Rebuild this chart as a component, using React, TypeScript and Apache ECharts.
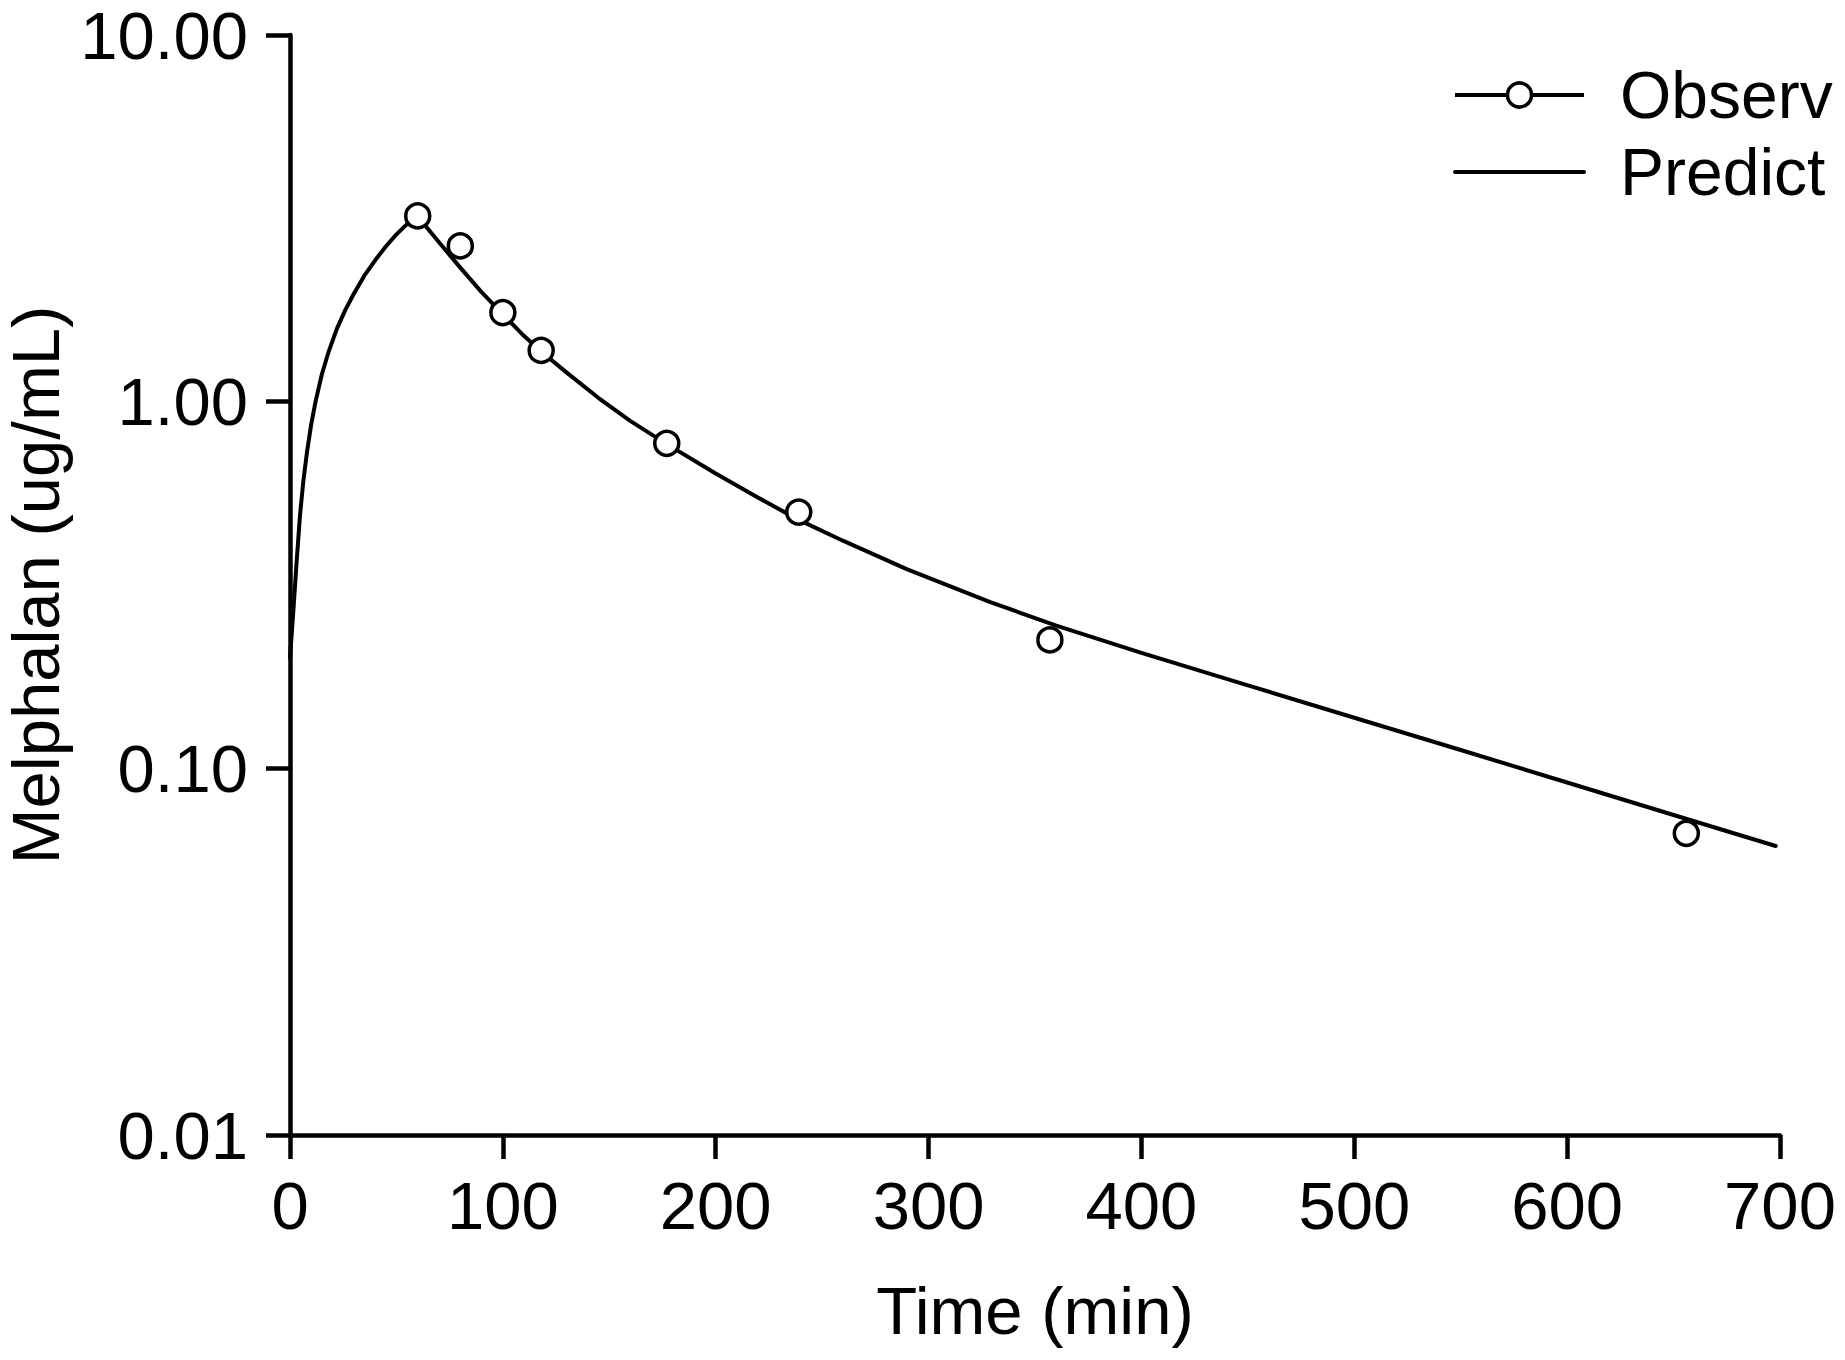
import React, { useEffect, useRef } from "react";
import * as echarts from "echarts";

// Observed melphalan concentrations
const observedTime = [60, 80, 100, 118, 177, 239, 357, 656];
const observedConc = [3.21, 2.66, 1.75, 1.38, 0.77, 0.5, 0.224, 0.0665];

// Model-predicted curve
const predictedTime = [
  0, 1.6, 3.1, 4.7, 6.3, 8, 10, 12, 15, 18, 22, 26, 30, 35, 40, 45, 50, 55, 60,
  70, 80, 90, 100, 110, 118, 130, 145, 160, 177, 200, 220, 239, 260, 290, 329,
  360, 400, 450, 500, 550, 600, 650, 698,
];
const predictedConc = [
  0.2, 0.27, 0.365, 0.49, 0.61, 0.73, 0.87, 1.0, 1.19, 1.36, 1.58, 1.78, 1.97,
  2.21, 2.43, 2.65, 2.86, 3.05, 3.2, 2.72, 2.32, 1.99, 1.73, 1.51, 1.37, 1.2,
  1.023, 0.885, 0.766, 0.637, 0.547, 0.476, 0.417, 0.349, 0.284, 0.245, 0.2065,
  0.1684, 0.1374, 0.1122, 0.0915, 0.0746, 0.0614,
];

const seriesNames = ["Observ", "Predict"];
const xAxisTitle = "Time (min)";
const yAxisTitle = "Melphalan (ug/mL)";

const FONT = "'Liberation Sans', Arial, Helvetica, sans-serif";
const FS = 67;

export default function App() {
  const ref = useRef<HTMLDivElement>(null);

  useEffect(() => {
    if (!ref.current) return;
    const chart = echarts.init(ref.current, undefined, { renderer: "svg" });
    const observed = observedTime.map((t, i) => [t, observedConc[i]]);
    const predicted = predictedTime.map((t, i) => [t, predictedConc[i]]);

    chart.setOption({
      animation: false,
      backgroundColor: "#ffffff",
      textStyle: { fontFamily: FONT },
      grid: {
        left: 290,
        right: 65,
        top: 35,
        bottom: 225,
        containLabel: false,
        outerBoundsMode: "none",
      },
      legend: {
        orient: "vertical",
        left: 1448,
        top: 57,
        itemWidth: 129,
        itemHeight: 30,
        itemGap: 11,
        textStyle: {
          fontSize: 66,
          lineHeight: 64,
          color: "#000",
          fontFamily: FONT,
          padding: [0, 0, 0, 31],
        },
        data: [
          {
            name: seriesNames[0],
            lineStyle: { width: 4, color: "#000", opacity: 1 },
            itemStyle: { color: "#fff", borderColor: "#000", borderWidth: 3.5 },
          },
          {
            name: seriesNames[1],
            lineStyle: { width: 4, color: "#000", opacity: 1 },
            itemStyle: {
              color: "rgba(0,0,0,0)",
              borderColor: "rgba(0,0,0,0)",
              borderWidth: 0,
              opacity: 0,
            },
          },
        ],
      },
      xAxis: {
        type: "value",
        min: 0,
        max: 700,
        interval: 100,
        name: xAxisTitle,
        nameLocation: "middle",
        nameGap: 142,
        nameTextStyle: { fontSize: FS, color: "#000", fontFamily: FONT, lineHeight: FS },
        axisLine: { show: true, lineStyle: { color: "#000", width: 4.5 } },
        axisTick: { show: true, length: 24, inside: false, lineStyle: { color: "#000", width: 4.5 } },
        axisLabel: { fontSize: FS, color: "#000", margin: 37, fontFamily: FONT, lineHeight: FS },
        splitLine: { show: false },
      },
      yAxis: {
        type: "log",
        logBase: 10,
        min: 0.01,
        max: 10,
        name: yAxisTitle,
        nameLocation: "middle",
        nameGap: 214,
        nameRotate: 90,
        nameTextStyle: { fontSize: FS, color: "#000", fontFamily: FONT, lineHeight: 60 },
        axisLine: { show: true, lineStyle: { color: "#000", width: 4.5 } },
        axisTick: { show: true, length: 24, inside: false, lineStyle: { color: "#000", width: 4.5 } },
        axisLabel: {
          fontSize: FS,
          color: "#000",
          margin: 42,
          lineHeight: 60,
          fontFamily: FONT,
          formatter: (v: number) => v.toFixed(2),
        },
        splitLine: { show: false },
      },
      series: [
        {
          name: seriesNames[1],
          type: "line",
          data: predicted,
          symbol: "none",
          smooth: false,
          lineStyle: { color: "#000", width: 4, join: "round", cap: "round" },
          itemStyle: { color: "#000" },
          z: 2,
        },
        {
          name: seriesNames[0],
          type: "line",
          data: observed,
          symbol: "circle",
          symbolSize: 24,
          showAllSymbol: true,
          lineStyle: { width: 0, opacity: 0, color: "#000" },
          itemStyle: { color: "#fff", borderColor: "#000", borderWidth: 3.5 },
          z: 3,
        },
      ],
    });

    return () => chart.dispose();
  }, []);

  return (
    <div
      ref={ref}
      style={{ position: "absolute", left: 0, top: 0, width: 1845, height: 1360, background: "#fff" }}
    />
  );
}
